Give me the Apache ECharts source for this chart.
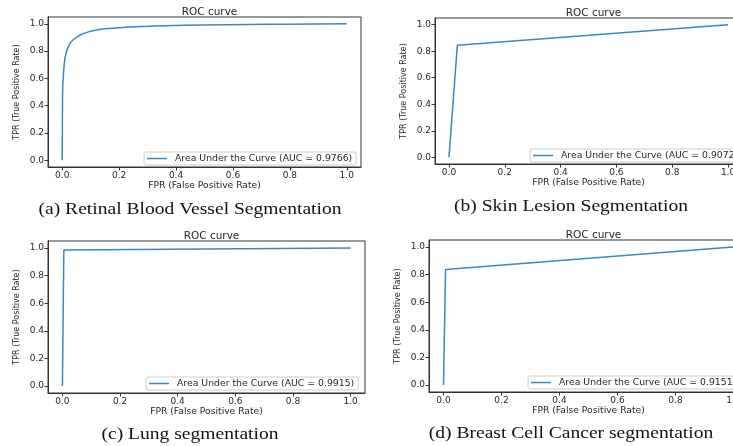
<!DOCTYPE html>
<html>
<head>
<meta charset="utf-8">
<script src="https://cdn.jsdelivr.net/npm/echarts@6/dist/echarts.min.js"></script>
<style>html,body{margin:0;padding:0;background:#fff}#c{width:733px;height:446px}</style>
</head>
<body>
<div id="c"></div>
<script>
// Data
var ticks = [0, 0.2, 0.4, 0.6, 0.8, 1.0];
var fprA = [0, 0.001, 0.002, 0.004, 0.006, 0.009, 0.013, 0.019, 0.027, 0.037, 0.05, 0.063, 0.08, 0.1, 0.116, 0.15, 0.21, 0.28, 0.36, 0.5, 0.65, 0.8, 1];
var tprA = [0, 0.45, 0.55, 0.62, 0.68, 0.74, 0.78, 0.82, 0.855, 0.88, 0.9, 0.918, 0.932, 0.945, 0.953, 0.963, 0.973, 0.98, 0.986, 0.991, 0.995, 0.997, 1];
var fprB = [0, 0.03, 1];
var tprB = [0, 0.845, 1];
var fprC = [0, 0.005, 1];
var tprC = [0, 0.984, 1];
var fprD = [0, 0.007, 1];
var tprD = [0, 0.836, 1];
var names = ['Area Under the Curve (AUC = 0.9766)', 'Area Under the Curve (AUC = 0.9072)', 'Area Under the Curve (AUC = 0.9915)', 'Area Under the Curve (AUC = 0.9151)'];
var captions = ['(a) Retinal Blood Vessel Segmentation', '(b) Skin Lesion Segmentation', '(c) Lung segmentation', '(d) Breast Cell Cancer segmentation'];

function zip(a, b) { return a.map(function (v, i) { return [v, b[i]]; }); }
var dataSets = [zip(fprA, tprA), zip(fprB, tprB), zip(fprC, tprC), zip(fprD, tprD)];

var grids = [
  {left: 48, top: 17, width: 313, height: 150},
  {left: 435, top: 18, width: 307, height: 146},
  {left: 48, top: 241, width: 317, height: 152},
  {left: 429, top: 240, width: 319, height: 152}
];
var legendPos = [[144, 152], [530, 149], [146, 377], [528, 376]];
var captionPos = [[190, 210], [571, 207], [190, 435], [571, 434]];

var FONT = 'DejaVu Sans';
var txt = '#262626';
var lineColor = '#3a87c3';

var option = {
  animation: false,
  backgroundColor: '#fff',
  title: [], grid: [], xAxis: [], yAxis: [], series: [], legend: [], graphic: []
};

grids.forEach(function (g, i) {
  option.grid.push({left: g.left, top: g.top, width: g.width, height: g.height, show: true, borderColor: '#333', borderWidth: 1, backgroundColor: 'transparent', containLabel: false, outerBoundsMode: 'none'});
  option.title.push({text: 'ROC curve', left: g.left + g.width / 2, top: g.top - 15, textAlign: 'center',
    textStyle: {fontFamily: FONT, fontSize: 10.5, fontWeight: 'normal', color: txt}});
  var axisCommon = {
    type: 'value', min: -0.05, max: 1.05, gridIndex: i,
    splitLine: {show: false},
    axisLine: {show: true, onZero: false, lineStyle: {color: '#333', width: 1}},
    axisTick: {show: true, inside: false, length: 3.5, lineStyle: {color: '#333'}, customValues: ticks},
    axisLabel: {show: true, fontFamily: FONT, fontSize: 9, color: txt, margin: 4, customValues: ticks,
      formatter: function (v) { return v.toFixed(1); }},
    nameLocation: 'middle'
  };
  option.xAxis.push(Object.assign({}, axisCommon, {name: 'FPR (False Positive Rate)', nameGap: 12,
    nameTextStyle: {fontFamily: FONT, fontSize: 9.2, color: txt}}));
  option.yAxis.push(Object.assign({}, axisCommon, {name: 'TPR (True Positive Rate)', nameGap: 27,
    nameTextStyle: {fontFamily: FONT, fontSize: 8, color: txt}}));
  option.series.push({
    name: names[i], type: 'line', xAxisIndex: i, yAxisIndex: i, data: dataSets[i],
    showSymbol: false, symbol: 'none', smooth: i === 0 ? 0.3 : false,
    lineStyle: {color: lineColor, width: 1.5}, itemStyle: {color: lineColor}
  });
  option.legend.push({
    data: [names[i]], left: legendPos[i][0], top: legendPos[i][1], orient: 'horizontal',
    icon: 'rect', itemWidth: 20, itemHeight: 1.5, itemGap: 0,
    padding: [2, 4, 2, 3], borderColor: '#ccc', borderWidth: 1, borderRadius: 2,
    backgroundColor: 'rgba(255,255,255,0.8)',
    textStyle: {fontFamily: FONT, fontSize: 9.3, color: txt, padding: [0, 0, 0, 3]},
    selectedMode: false
  });
  option.graphic.push({
    type: 'text', x: captionPos[i][0], y: captionPos[i][1], scaleX: 1.15,
    style: {text: captions[i], fontFamily: 'Liberation Serif', fontSize: 17, fill: '#111', align: 'center', verticalAlign: 'middle'}
  });
});

var chart = echarts.init(document.getElementById('c'), null, {renderer: 'canvas'});
chart.setOption(option);
</script>
</body>
</html>
